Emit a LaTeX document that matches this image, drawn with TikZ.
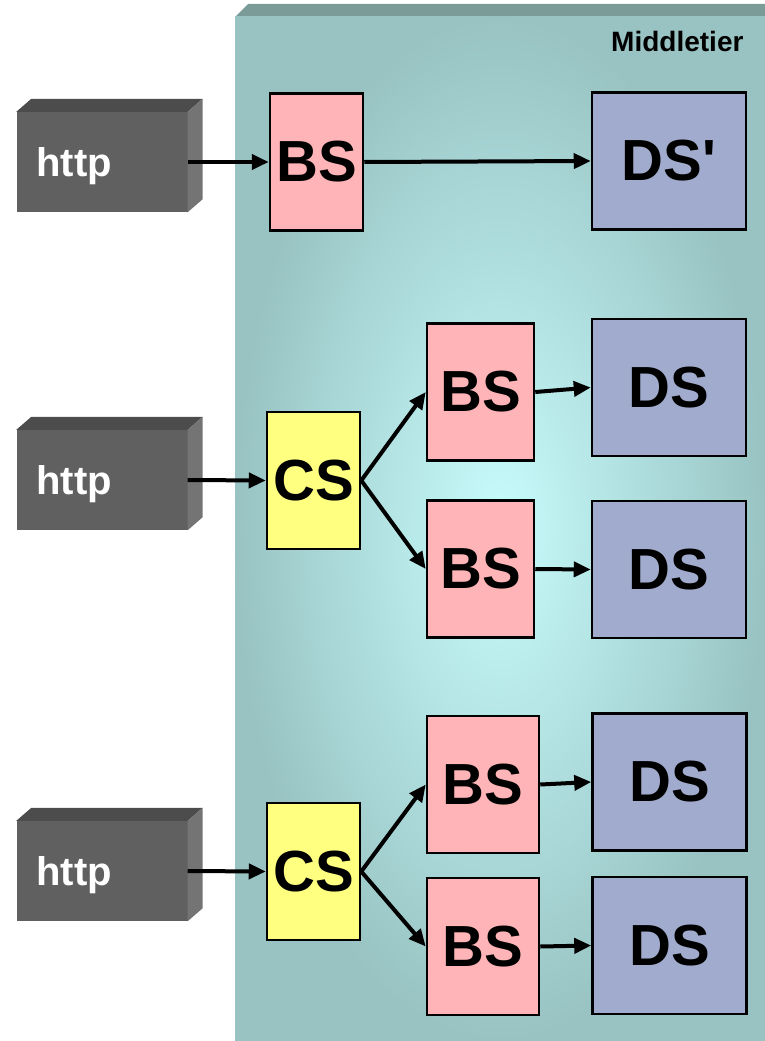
\documentclass[tikz,border=0pt]{standalone}
\usepackage{fontspec}
\setmainfont{Liberation Sans}
\usetikzlibrary{arrows.meta, calc}
\definecolor{panelteal}{HTML}{99C3C3}
\definecolor{panelglow}{HTML}{C8FCFC}
\definecolor{paneltop}{HTML}{7B9B99}
\definecolor{bspink}{HTML}{FFB5B8}
\definecolor{csyellow}{HTML}{FFFF80}
\definecolor{dsblue}{HTML}{A1ABCD}
\definecolor{httpfront}{HTML}{606060}
\definecolor{httptop}{HTML}{4C4C4C}
\definecolor{httpside}{HTML}{747474}

\begin{document}
\begin{tikzpicture}[x=1pt, y=-1pt,
    svc/.style={draw=black, line width=2.5pt, inner sep=0pt, font=\fontsize{58}{58}\selectfont\bfseries},
    bsbox/.style={svc, fill=bspink, minimum height=137pt},
    csbox/.style={svc, fill=csyellow, minimum width=93pt, minimum height=137pt},
    dsbox/.style={svc, fill=dsblue, minimum width=154pt, minimum height=137pt},
    httpbox/.style={fill=httpfront, text=white, minimum height=100pt, inner xsep=20pt,
        text width=131pt, align=left, text depth=0pt, font=\fontsize{40}{40}\selectfont\bfseries},
    flow/.style={line width=4pt, -{Triangle[length=17pt, width=15pt]}}]
    \useasboundingbox (0,0) rectangle (765,1041);
    \def\dx{15}
    \def\dy{-13}
    % Middle tier panel
    \fill[paneltop] (235,17) -- (248,4) -- (765,4) -- (765,17) -- cycle;
    \shade[inner color=panelglow, outer color=panelteal] (235,17) rectangle (765,1041);
    \node[anchor=base east, font=\fontsize{28}{28}\selectfont\bfseries] (tier) at (747,52) {Middletier};
    % Clients
    \node[httpbox] (h1) at (102,162) {http};
    \node[httpbox] (h2) at (102,480) {http};
    \node[httpbox] (h3) at (102,871) {http};
    \foreach \h in {h1,h2,h3} {
        \fill[httptop] (\h.north west) -- ++(\dx,\dy) -- ($(\h.north east)+(\dx,\dy)$) -- (\h.north east) -- cycle;
        \fill[httpside] (\h.north east) -- ++(\dx,\dy) -- ($(\h.south east)+(\dx,\dy)$) -- (\h.south east) -- cycle;
    }
    % Row 1
    \node[bsbox, minimum width=93pt] (bs1) at (316.5,162) {BS};
    \node[dsbox] (ds1) at (669,161) {DS\textquotesingle};
    % Row 2
    \node[csbox] (cs2) at (313.5,480.5) {CS};
    \node[bsbox, minimum width=107pt] (bs2a) at (480.5,392) {BS};
    \node[bsbox, minimum width=107pt] (bs2b) at (480.5,569) {BS};
    \node[dsbox] (ds2a) at (669,387.5) {DS};
    \node[dsbox] (ds2b) at (669,569.5) {DS};
    % Row 3
    \node[csbox] (cs3) at (313.5,871.5) {CS};
    \node[bsbox, minimum width=112pt] (bs3a) at (483,784.5) {BS};
    \node[bsbox, minimum width=112pt] (bs3b) at (483,946.5) {BS};
    \node[dsbox] (ds3a) at (669.5,782) {DS};
    \node[dsbox] (ds3b) at (669.5,945.5) {DS};
    % Connectors
    \draw[flow] (h1.east) -- (bs1.west);
    \draw[flow] (bs1.east) -- (ds1.west);
    \draw[flow] (h2.east) -- (cs2.west);
    \draw[flow] (cs2.east) -- (bs2a.west);
    \draw[flow] (cs2.east) -- (bs2b.west);
    \draw[flow] (bs2a.east) -- (ds2a.west);
    \draw[flow] (bs2b.east) -- (ds2b.west);
    \draw[flow] (h3.east) -- (cs3.west);
    \draw[flow] (cs3.east) -- (bs3a.west);
    \draw[flow] (cs3.east) -- (bs3b.west);
    \draw[flow] (bs3a.east) -- (ds3a.west);
    \draw[flow] (bs3b.east) -- (ds3b.west);
\end{tikzpicture}
\end{document}
